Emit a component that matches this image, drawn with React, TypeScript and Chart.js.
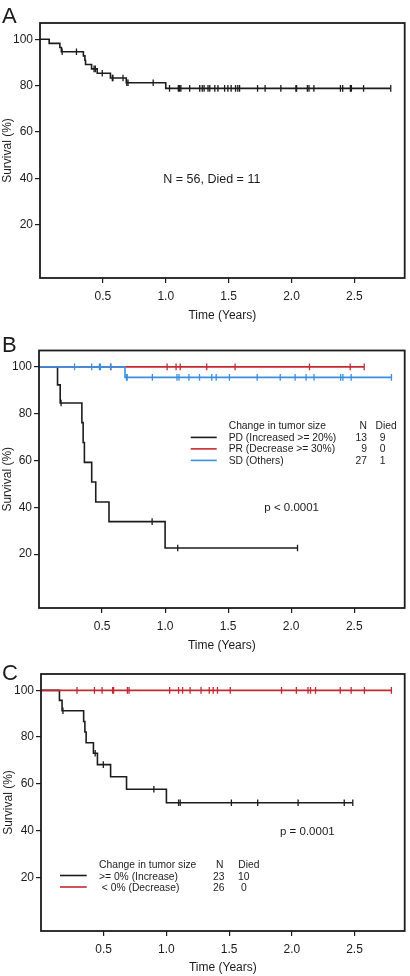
import React, { useEffect, useRef } from 'react';
import { Chart, registerables } from 'chart.js';

Chart.register(...registerables);

const FONT = '"Liberation Sans", Arial, Helvetica, sans-serif';
const INK = '#1c1c1c';
const RED = '#c42a30';
const BLUE = '#3a8fe2';

// Axis ticks
const X_TICKS = [0.5, 1.0, 1.5, 2.0, 2.5];
const X_TICK_LABELS = ['0.5', '1.0', '1.5', '2.0', '2.5'];
const Y_TICKS = [20, 40, 60, 80, 100];
const Y_TICK_LABELS = ['20', '40', '60', '80', '100'];

// Panel A: all patients
const A_EVENT_TIMES = [0.073, 0.158, 0.17, 0.345, 0.357, 0.362, 0.41, 0.455, 0.56, 0.686, 1.0];
const A_SURVIVAL = [98.2, 96.4, 94.6, 92.8, 90.9, 89.1, 87.2, 85.3, 83.3, 81.2, 78.8];
const A_CENSOR_TIMES = [0.176, 0.29, 0.43, 0.44, 0.495, 0.575, 0.58, 0.66, 0.69, 0.7, 0.9, 1.03, 1.1, 1.11, 1.12, 1.19, 1.27, 1.29, 1.305, 1.336, 1.35, 1.39, 1.415, 1.468, 1.494, 1.52, 1.555, 1.573, 1.587, 1.73, 1.79, 1.915, 2.035, 2.04, 2.126, 2.139, 2.178, 2.389, 2.407, 2.468, 2.476, 2.573, 2.789];
const A_END = 2.789;
const A_NOTE = 'N = 56, Died = 11';

// Panel B: PD / PR / SD
const B_HEADER = 'Change in tumor size';
const B_GROUPS = ['PD (Increased >= 20%)', 'PR (Decrease >= 30%)', 'SD (Others)'];
const B_N = ['13', '9', '27'];
const B_DIED = ['9', '0', '1'];
const B_PD_TIMES = [0.147, 0.168, 0.34, 0.35, 0.36, 0.418, 0.45, 0.555, 1.0];
const B_PD_SURV = [92.3, 84.6, 76.2, 67.7, 59.2, 50.8, 42.3, 33.9, 22.6];
const B_PD_CENSORS = [0.175, 0.897, 1.1, 2.05];
const B_PD_END = 2.05;
const B_PR_TIMES: number[] = [];
const B_PR_SURV: number[] = [];
const B_PR_CENSORS = [0.57, 1.016, 1.087, 1.12, 1.33, 1.555, 2.145, 2.468, 2.579];
const B_PR_END = 2.579;
const B_SD_TIMES = [0.682];
const B_SD_SURV = [95.5];
const B_SD_CENSORS = [0.282, 0.418, 0.479, 0.487, 0.567, 0.694, 0.699, 0.899, 1.094, 1.11, 1.189, 1.273, 1.37, 1.405, 1.51, 1.73, 1.913, 2.031, 2.118, 2.181, 2.392, 2.41, 2.476, 2.795];
const B_SD_END = 2.795;
const B_P = 'p < 0.0001';

// Panel C: increase / decrease
const C_HEADER = 'Change in tumor size';
const C_GROUPS = ['>= 0% (Increase)', ' < 0% (Decrease)'];
const C_N = ['23', '26'];
const C_DIED = ['10', '0'];
const C_INC_TIMES = [0.147, 0.168, 0.34, 0.35, 0.36, 0.418, 0.45, 0.555, 0.682, 1.0];
const C_INC_SURV = [95.7, 91.3, 86.7, 82.2, 77.6, 73.1, 68.2, 63.0, 57.7, 51.9];
const C_INC_CENSORS = [0.175, 0.432, 0.497, 0.9, 1.097, 1.11, 1.518, 1.728, 2.05, 2.418, 2.486];
const C_INC_END = 2.486;
const C_DEC_TIMES: number[] = [];
const C_DEC_SURV: number[] = [];
const C_DEC_CENSORS = [0.287, 0.426, 0.487, 0.571, 0.579, 0.689, 0.702, 1.026, 1.097, 1.129, 1.189, 1.276, 1.342, 1.373, 1.407, 1.509, 1.918, 2.036, 2.129, 2.149, 2.189, 2.386, 2.473, 2.579, 2.794];
const C_DEC_END = 2.794;
const C_P = 'p = 0.0001';

type Pt = { x: number; y: number };

function stepPoints(times: number[], surv: number[], end: number): Pt[] {
  const pts: Pt[] = [{ x: 0, y: 100 }];
  times.forEach((t, i) => pts.push({ x: t, y: surv[i] }));
  pts.push({ x: end, y: surv.length ? surv[surv.length - 1] : 100 });
  return pts;
}

function censorPoints(censors: number[], times: number[], surv: number[]): Pt[] {
  return censors.map((c) => {
    let y = 100;
    times.forEach((t, i) => {
      if (t <= c) y = surv[i];
    });
    return { x: c, y };
  });
}

function curve(pts: Pt[], color: string) {
  return {
    type: 'line',
    data: pts,
    borderColor: color,
    borderWidth: 1.6,
    pointRadius: 0,
    stepped: 'before',
    fill: false,
    tension: 0,
  };
}

function marks(pts: Pt[], color: string) {
  return {
    type: 'line',
    data: pts,
    showLine: false,
    borderColor: color,
    pointStyle: 'line',
    pointRotation: 90,
    pointRadius: 3.3,
    pointBorderWidth: 1.3,
    pointBorderColor: color,
    pointBackgroundColor: color,
  };
}

function txt(ctx: CanvasRenderingContext2D, s: string, x: number, y: number, size: number, align: CanvasTextAlign = 'left') {
  ctx.font = `${size}px ${FONT}`;
  ctx.textAlign = align;
  ctx.textBaseline = 'middle';
  ctx.fillText(s, x, y);
}

function hline(ctx: CanvasRenderingContext2D, x1: number, x2: number, y: number, color: string) {
  ctx.strokeStyle = color;
  ctx.lineWidth = 1.6;
  ctx.beginPath();
  ctx.moveTo(x1, y);
  ctx.lineTo(x2, y);
  ctx.stroke();
}

type PanelCfg = {
  key: string;
  top: number;
  height: number;
  areaLeft: number;
  areaTop: number;
  areaBottom: number;
  areaRight: number;
  xTitleY: number;
  yTitlePad: number;
  letter: string;
  letterBaseline: number;
  datasets: any[];
  decorate: (ctx: CanvasRenderingContext2D, a: any) => void;
};

const PANELS: PanelCfg[] = [
  {
    key: 'A', top: 0, height: 330, areaLeft: 40, areaTop: 23, areaBottom: 278, areaRight: 406,
    xTitleY: 316, yTitlePad: 0.5, letter: 'A', letterBaseline: 22.7,
    datasets: [
      marks(censorPoints(A_CENSOR_TIMES, A_EVENT_TIMES, A_SURVIVAL), INK),
      curve(stepPoints(A_EVENT_TIMES, A_SURVIVAL, A_END), INK),
    ],
    decorate: (ctx, a) => {
      txt(ctx, A_NOTE, a.left + 123.3, a.top + 157, 12.5);
    },
  },
  {
    key: 'B', top: 325, height: 330, areaLeft: 39, areaTop: 25.5, areaBottom: 283, areaRight: 406.5,
    xTitleY: 320.5, yTitlePad: 0, letter: 'B', letterBaseline: 26.7,
    datasets: [
      marks(censorPoints(B_SD_CENSORS, B_SD_TIMES, B_SD_SURV), BLUE),
      curve(stepPoints(B_SD_TIMES, B_SD_SURV, B_SD_END), BLUE),
      marks(censorPoints(B_PR_CENSORS, B_PR_TIMES, B_PR_SURV), RED),
      curve(stepPoints(B_PR_TIMES, B_PR_SURV, B_PR_END), RED),
      marks(censorPoints(B_PD_CENSORS, B_PD_TIMES, B_PD_SURV), INK),
      curve(stepPoints(B_PD_TIMES, B_PD_SURV, B_PD_END), INK),
    ],
    decorate: (ctx, a) => {
      txt(ctx, B_P, a.left + 225.3, a.top + 157.8, 11.5);
      const fs = 10.3;
      txt(ctx, B_HEADER, a.left + 189.7, a.top + 75.5, fs);
      txt(ctx, 'N', a.left + 328, a.top + 75.5, fs, 'right');
      txt(ctx, 'Died', a.left + 336.5, a.top + 75.5, fs);
      const rows = [87.2, 98.7, 110.2];
      const cols = [INK, RED, BLUE];
      B_GROUPS.forEach((g, i) => {
        const y = a.top + rows[i];
        hline(ctx, a.left + 151.7, a.left + 177.7, y - 0.3, cols[i]);
        ctx.fillStyle = INK;
        txt(ctx, g, a.left + 189.7, y, fs);
        txt(ctx, B_N[i], a.left + 328, y, fs, 'right');
        txt(ctx, B_DIED[i], a.left + 343.5, y, fs, 'center');
      });
    },
  },
  {
    key: 'C', top: 650, height: 326, areaLeft: 41, areaTop: 24, areaBottom: 281, areaRight: 408,
    xTitleY: 318, yTitlePad: 1.8, letter: 'C', letterBaseline: 30,
    datasets: [
      marks(censorPoints(C_DEC_CENSORS, C_DEC_TIMES, C_DEC_SURV), RED),
      curve(stepPoints(C_DEC_TIMES, C_DEC_SURV, C_DEC_END), RED),
      marks(censorPoints(C_INC_CENSORS, C_INC_TIMES, C_INC_SURV), INK),
      curve(stepPoints(C_INC_TIMES, C_INC_SURV, C_INC_END), INK),
    ],
    decorate: (ctx, a) => {
      txt(ctx, C_P, a.left + 239, a.top + 157.7, 11.5);
      const fs = 10.3;
      txt(ctx, C_HEADER, a.left + 58, a.top + 191.5, fs);
      txt(ctx, 'N', a.left + 178.7, a.top + 191.5, fs, 'center');
      txt(ctx, 'Died', a.left + 197.3, a.top + 191.5, fs);
      const rows = [202.9, 214.4];
      const cols = [INK, RED];
      C_GROUPS.forEach((g, i) => {
        const y = a.top + rows[i];
        hline(ctx, a.left + 19, a.left + 45.7, y - 1.4, cols[i]);
        ctx.fillStyle = INK;
        txt(ctx, g, a.left + 58, y, fs);
        txt(ctx, C_N[i], a.left + 183.5, y, fs, 'right');
        txt(ctx, C_DIED[i], a.left + 202.8, y, fs, 'center');
      });
    },
  },
];

function buildConfig(cfg: PanelCfg): any {
  const tickFont = { family: FONT, size: 12 };
  const grid = { display: true, drawOnChartArea: false, drawTicks: true, tickLength: 5, color: INK, lineWidth: 1.2 };
  const decor = {
    id: 'decor' + cfg.key,
    afterDraw(chart: any) {
      const { ctx, chartArea: a } = chart;
      ctx.save();
      ctx.strokeStyle = INK;
      ctx.lineWidth = 1.8;
      ctx.strokeRect(a.left, a.top, a.right - a.left, a.bottom - a.top);
      ctx.fillStyle = INK;
      ctx.font = `22px ${FONT}`;
      ctx.textAlign = 'left';
      ctx.textBaseline = 'alphabetic';
      ctx.fillText(cfg.letter, 2, cfg.letterBaseline);
      cfg.decorate(ctx, a);
      ctx.restore();
    },
  };
  return {
    type: 'line',
    data: { datasets: cfg.datasets },
    options: {
      animation: false,
      responsive: false,
      events: [],
      layout: { padding: { top: cfg.areaTop, right: 410 - cfg.areaRight, bottom: 0, left: 0 } },
      plugins: { legend: { display: false }, tooltip: { enabled: false }, title: { display: false } },
      scales: {
        x: {
          type: 'linear',
          position: 'bottom',
          min: 0,
          max: 2.9,
          afterBuildTicks: (s: any) => {
            s.ticks = X_TICKS.map((v) => ({ value: v }));
          },
          afterFit: (s: any) => {
            s.height = cfg.height - cfg.areaBottom;
          },
          ticks: {
            callback: (_v: any, i: number) => X_TICK_LABELS[i],
            font: tickFont,
            color: INK,
            padding: 6.8,
            maxRotation: 0,
            autoSkip: false,
          },
          grid,
          border: { display: false },
          title: {
            display: true,
            text: 'Time (Years)',
            font: tickFont,
            color: INK,
            padding: { top: 0, bottom: cfg.height - cfg.xTitleY - 7.2 },
          },
        },
        y: {
          type: 'linear',
          min: -3,
          max: 107,
          afterBuildTicks: (s: any) => {
            s.ticks = Y_TICKS.map((v) => ({ value: v }));
          },
          afterFit: (s: any) => {
            s.width = cfg.areaLeft;
          },
          ticks: {
            callback: (_v: any, i: number) => Y_TICK_LABELS[i],
            font: tickFont,
            color: INK,
            padding: 2,
            autoSkip: false,
          },
          grid,
          border: { display: false },
          title: {
            display: true,
            text: 'Survival (%)',
            font: tickFont,
            color: INK,
            padding: { top: cfg.yTitlePad, bottom: 0 },
          },
        },
      },
    },
    plugins: [decor],
  };
}

function Panel({ cfg }: { cfg: PanelCfg }) {
  const ref = useRef<HTMLCanvasElement | null>(null);
  useEffect(() => {
    if (!ref.current) return;
    const chart = new Chart(ref.current, buildConfig(cfg));
    return () => chart.destroy();
  }, [cfg]);
  return (
    <canvas
      ref={ref}
      width={410}
      height={cfg.height}
      style={{ position: 'absolute', left: 0, top: cfg.top, width: 410, height: cfg.height }}
    />
  );
}

export default function App() {
  return (
    <div style={{ position: 'absolute', left: 0, top: 0, width: 410, height: 976, background: '#fff', overflow: 'hidden' }}>
      {PANELS.map((p) => (
        <Panel key={p.key} cfg={p} />
      ))}
    </div>
  );
}
